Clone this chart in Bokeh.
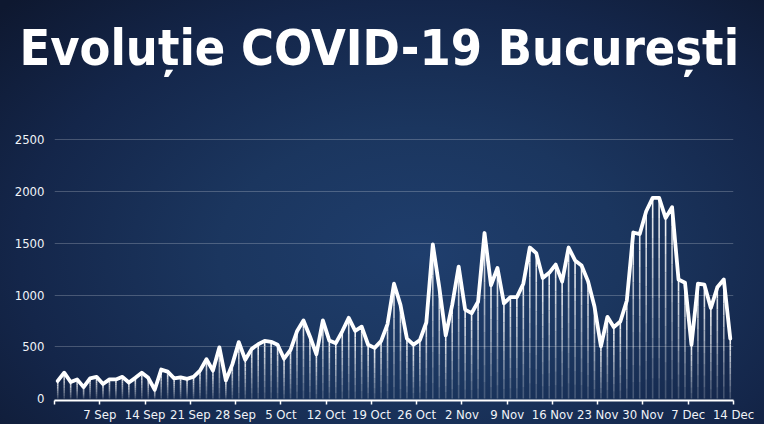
import numpy as np
import pandas as pd
from bokeh.plotting import figure
from bokeh.models import Range1d, FixedTicker, Title
from bokeh.embed import file_html
from bokeh.resources import INLINE

# daily new cases, 1 Sep .. 14 Dec
values = [170, 250, 160, 185, 110, 195, 210, 140, 185, 185,
          210, 155, 200, 250, 200, 85, 280, 260, 195, 205,
          190, 210, 270, 380, 270, 495, 175, 330, 545, 375,
          480, 525, 558, 548, 520, 385, 470, 650, 755, 600,
          428, 755, 560, 535, 650, 780, 655, 695, 520, 490,
          555, 720, 1110, 905, 580, 520, 565, 735, 1490, 1075,
          610, 905, 1275, 860, 825, 935, 1600, 1095, 1262, 920,
          980, 980, 1110, 1460, 1405, 1165, 1215, 1295, 1130, 1460,
          1335, 1285, 1135, 890, 505, 790, 690, 745, 945, 1605,
          1590, 1810, 1940, 1940, 1745, 1850, 1150, 1120, 520, 1110,
          1100, 875, 1075, 1150, 580]
start_date = "2020-09-01"
origin_date = "2020-08-31"
tick_days = [0, 7, 14, 21, 28, 35, 42, 49, 56, 63, 70, 77, 84, 91, 98, 105]
tick_labels = ["", "7 Sep", "14 Sep", "21 Sep", "28 Sep", "5 Oct", "12 Oct", "19 Oct",
               "26 Oct", "2 Nov", "9 Nov", "16 Nov", "23 Nov", "30 Nov", "7 Dec", "14 Dec"]
y_ticks = [0, 500, 1000, 1500, 2000, 2500]
title_text = "Evoluție COVID-19 București"

dates = pd.date_range(start_date, periods=len(values))
x = np.array((dates - pd.Timestamp(origin_date)).days, dtype=float) - 0.5
v = np.array(values, dtype=float)

font = "DejaVu Sans Condensed, Liberation Sans Narrow, Liberation Sans, sans-serif"

W, H = 764, 424
p = figure(width=W, height=H, output_backend="svg", toolbar_location=None,
           x_range=Range1d(0, 105), y_range=Range1d(-19, 3113),
           min_border_left=54, min_border_right=31, min_border_top=0, min_border_bottom=20)

p.background_fill_alpha = 0
p.border_fill_alpha = 0
p.outline_line_color = None
p.styles = {"background": "radial-gradient(ellipse 75% 85% at 55% 60%, #1f3e6d 0%, #1b365f 35%, #14264a 70%, #0e1830 100%)"}

# the built-in title serves as an empty spacer at the very top
p.title.text = " "
p.title.text_font_size = "12px"
p.title.standoff = 0

main_title = Title(text=title_text, align="left", offset=-35, standoff=0,
                   text_color="white", text_font=font, text_font_style="bold",
                   text_font_size="50px")
p.add_layout(main_title, "above")

# drop lines fading toward the bottom
N = 10
for k in range(N):
    p.segment(x0=x, y0=v * k / N, x1=x, y1=v * (k + 1) / N,
              line_color="white", line_width=1.6, line_alpha=0.12 + 0.8 * (k + 1) / N)

p.line(x, v, line_color="white", line_width=3.8, line_join="round", line_cap="round")

# axes
p.xaxis.ticker = FixedTicker(ticks=tick_days)
p.xaxis.major_label_overrides = {d: l for d, l in zip(tick_days, tick_labels)}
p.xaxis.axis_line_color = "white"
p.xaxis.axis_line_width = 2
p.xaxis.major_tick_line_color = "white"
p.xaxis.major_tick_line_width = 1.5
p.xaxis.major_tick_in = 0
p.xaxis.major_tick_out = 4
p.xaxis.minor_tick_line_color = None
p.xaxis.major_label_standoff = 2
p.xaxis.major_label_text_color = "#f0f3f8"
p.xaxis.major_label_text_font = font
p.xaxis.major_label_text_font_size = "13px"

p.yaxis.ticker = FixedTicker(ticks=y_ticks)
p.yaxis.axis_line_color = None
p.yaxis.major_tick_line_color = None
p.yaxis.minor_tick_line_color = None
p.yaxis.major_label_standoff = 4
p.yaxis.major_label_text_color = "#f0f3f8"
p.yaxis.major_label_text_font = font
p.yaxis.major_label_text_font_size = "13px"

p.xgrid.grid_line_color = None
p.ygrid.ticker = FixedTicker(ticks=[500, 1000, 1500, 2000, 2500])
p.ygrid.grid_line_color = "white"
p.ygrid.grid_line_alpha = 0.22
p.ygrid.grid_line_width = 1

open("out.html", "w").write(file_html(p, INLINE))
